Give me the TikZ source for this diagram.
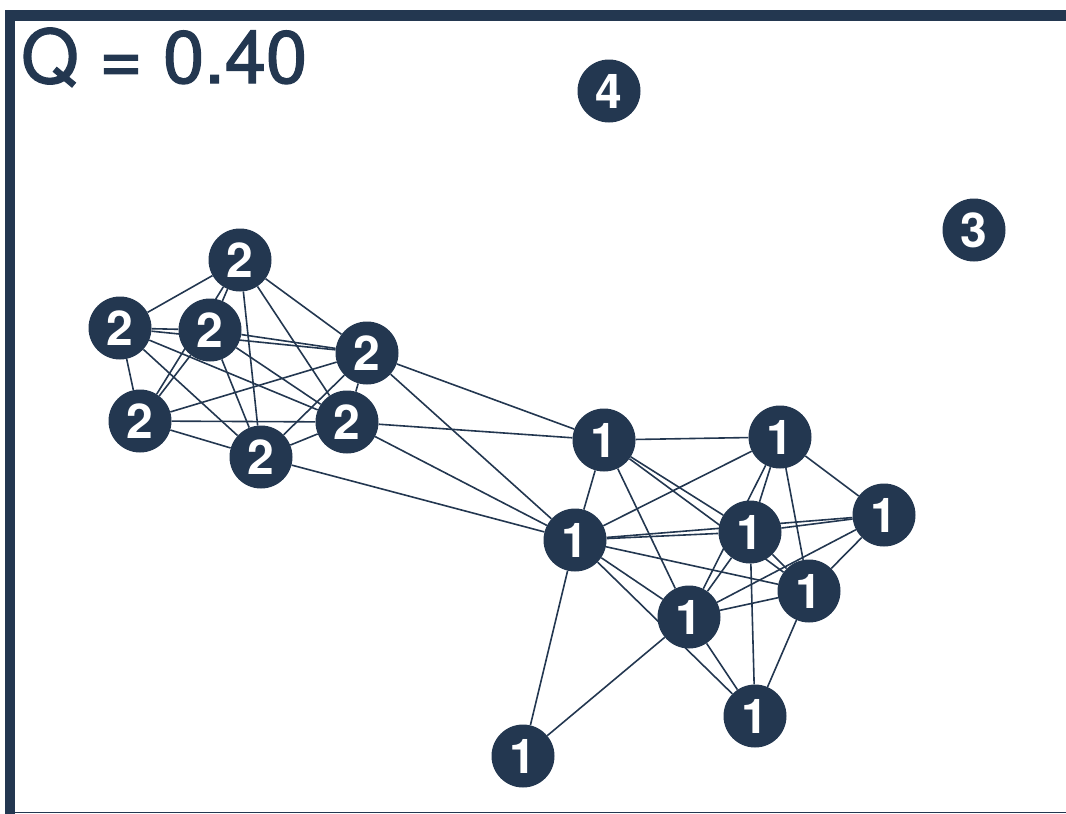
\documentclass[tikz,border=0pt]{standalone}
\usepackage{fontspec}
\setsansfont{TeX Gyre Heros}
\newfontfamily\scorefont[FakeBold=1.6]{TeX Gyre Heros}
\usepackage{xcolor}
\usepackage{tikz}
\usetikzlibrary{positioning,backgrounds}

\definecolor{navy}{RGB}{35,55,80}

\begin{document}
\begin{tikzpicture}[x=1pt, y=-1pt,
    vertex/.style={circle, fill=navy, text=white, inner sep=0pt, minimum size=63pt,
                   font=\sffamily\bfseries\fontsize{48}{48}\selectfont},
    link/.style={draw=navy, line width=1.6pt},
    frame/.style={draw=navy, line width=10.5pt}]
    \useasboundingbox (0,0) rectangle (1066,814);

    % frame and score
    \draw[frame] (1066,15.5) -- (10,15.5) -- (10,814);
    \draw[navy, line width=1.2pt] (15,812.5) -- (1066,812.5);
    \node[anchor=base west, inner sep=0pt, text=navy,
          font=\scorefont\fontsize{74}{74}\selectfont] (score) at (21,83) {Q = 0.40};

    % community 2
    \foreach \name/\x/\y in {ta/240/260, tb/120/328, tc/210/330, td/367/353,
                             te/140/421, tf/347/422, tg/261/457}
        \node[vertex] (\name) at (\x,\y) {2};

    % community 1
    \foreach \name/\x/\y in {oa/604/440, ob/780/437, oc/575/540, od/750/532,
                             oe/884/515, of/809/591, og/689/617, oh/755/716, oi/523/756}
        \node[vertex] (\name) at (\x,\y) {1};

    % loners
    \node[vertex] (four) at (609,91) {4};
    \node[vertex] (three) at (974,230) {3};

    \begin{scope}[on background layer]
    \foreach \u/\v in {ta/tb, ta/tc, ta/te, ta/tg, ta/tf, ta/td, tb/tc, tb/td, tb/te,
                       tb/tf, tb/tg, tc/td, tc/te, tc/tg, tc/tf, te/td, te/tf, te/tg,
                       td/tg, td/tf, tf/tg}
        \draw[link] (\u) -- (\v);
    % between the two groups
    \foreach \u/\v in {td/oa, td/oc, tf/oa, tf/oc, tg/oc}
        \draw[link] (\u) -- (\v);
    \foreach \u/\v in {oa/ob, oa/oc, oa/og, oa/od, oa/of, ob/oc, ob/od, ob/og, ob/of,
                       ob/oe, oc/od, oc/oe, oc/of, oc/og, oc/oh, oc/oi, od/oe, od/of,
                       od/og, od/oh, oe/of, oe/og, of/og, of/oh, og/oh, og/oi}
        \draw[link] (\u) -- (\v);
    \end{scope}
\end{tikzpicture}
\end{document}
